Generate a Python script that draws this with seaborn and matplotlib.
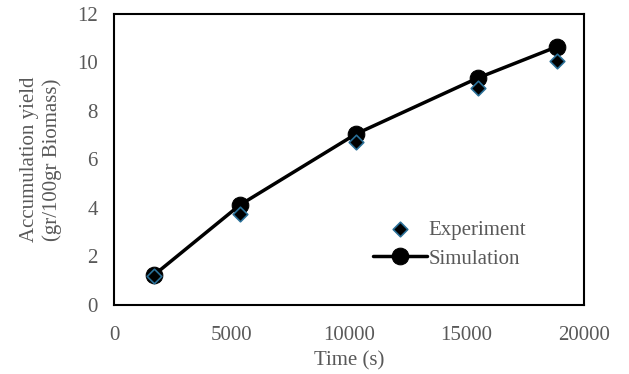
import matplotlib
matplotlib.use("Agg")
import matplotlib.pyplot as plt
import seaborn as sns
import pandas as pd

# data
time_s = [1700, 5350, 10300, 15500, 18850]
experiment = [1.2, 3.75, 6.72, 8.95, 10.06]
simulation = [1.24, 4.12, 7.05, 9.36, 10.64]

df = pd.DataFrame({"time": time_s, "exp": experiment, "sim": simulation})

sns.set_style("white")
plt.rcParams['font.family'] = ['Liberation Serif', 'DejaVu Serif']
grey = '#595959'

fig, ax = plt.subplots(figsize=(6.29, 3.74), dpi=100)

sns.lineplot(data=df, x="time", y="sim", ax=ax, color='black', linewidth=2.5,
             marker='o', markersize=12, markeredgecolor='black', label='Simulation', zorder=2)
sns.scatterplot(data=df, x="time", y="exp", ax=ax, marker='D', s=55, color='black',
                edgecolor='#2a6f97', linewidth=1.2, label='Experiment', zorder=3)

ax.set_xlim(0, 20000)
ax.set_ylim(0, 12)
ax.set_xticks([0, 5000, 10000, 15000, 20000])
ax.set_yticks(range(0, 13, 2))
ax.tick_params(labelsize=15, colors=grey, length=0)
ax.tick_params(axis='x', pad=15)
ax.tick_params(axis='y', pad=12)
ax.set_xlabel('Time (s)', fontsize=15, color=grey, labelpad=5)
ax.set_ylabel('Accumulation yield\n(gr/100gr Biomass)', fontsize=15, color=grey, labelpad=11)
for s in ax.spines.values():
    s.set_color('black')
    s.set_linewidth(1.5)

handles, labels = ax.get_legend_handles_labels()
order = [labels.index('Experiment'), labels.index('Simulation')]
leg = ax.legend([handles[i] for i in order], [labels[i] for i in order],
                frameon=False, fontsize=15, loc='lower left', bbox_to_anchor=(0.51, 0.06),
                handlelength=2.6, handletextpad=0.1, labelspacing=0.45)
for t in leg.get_texts():
    t.set_color(grey)

plt.subplots_adjust(left=0.182, right=0.928, top=0.963, bottom=0.185)
plt.savefig('out.png', dpi=100)
